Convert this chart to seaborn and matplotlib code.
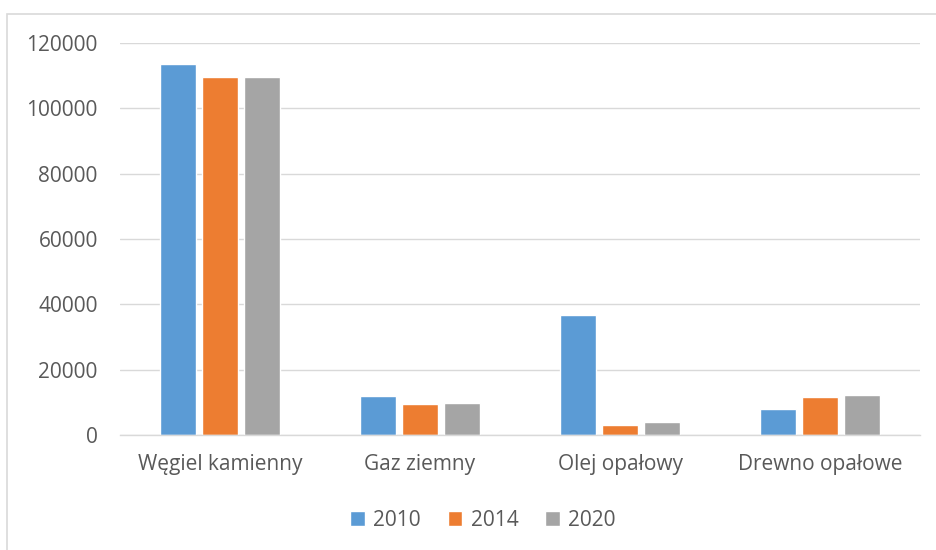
import seaborn as sns
import matplotlib.pyplot as plt
import pandas as pd
from matplotlib.patches import Rectangle

# Data
categories = ["Węgiel kamienny", "Gaz ziemny", "Olej opałowy", "Drewno opałowe"]
years = ["2010", "2014", "2020"]
values_2010 = [113600, 11900, 36600, 7900]
values_2014 = [109500, 9500, 3050, 11700]
values_2020 = [109700, 9700, 3900, 12300]
colors = ["#5B9BD5", "#ED7D31", "#A5A5A5"]

df = pd.DataFrame({
    "kategoria": categories * 3,
    "rok": [y for y in years for _ in categories],
    "wartosc": values_2010 + values_2014 + values_2020,
})

sns.set_style("white")
plt.rcParams["font.family"] = ["Open Sans", "DejaVu Sans"]

fig = plt.figure(figsize=(9.36, 5.5), dpi=100)
ax = fig.add_axes([120 / 936, 1 - 435 / 550, 800 / 936, 392 / 550])

sns.barplot(data=df, x="kategoria", y="wartosc", hue="rok", order=categories,
            hue_order=years, palette=colors, width=0.63, gap=0.14,
            saturation=1, ax=ax, legend=True)

ax.set_ylim(0, 120000)
ax.set_yticks(range(0, 120001, 20000))
ax.yaxis.grid(True, color="#d9d9d9", lw=1)
ax.set_axisbelow(True)
for s in ["top", "right", "left"]:
    ax.spines[s].set_visible(False)
ax.spines["bottom"].set_color("#d9d9d9")
ax.spines["bottom"].set_linewidth(1)
ax.set_xlabel("")
ax.set_ylabel("")
ax.tick_params(axis="both", length=0, colors="#595959", labelsize=15)
ax.tick_params(axis="y", pad=16)
ax.tick_params(axis="x", pad=14)

leg = ax.legend(loc="center", bbox_to_anchor=((483 - 120) / 800, -85 / 392), ncol=3,
                frameon=False, fontsize=15, handlelength=0.7, handleheight=0.7,
                columnspacing=1.3, handletextpad=0.4)
for t in leg.get_texts():
    t.set_color("#595959")

fig.patches.append(Rectangle((7 / 936, -0.01), 1.0, 1 - 14 / 550 + 0.01,
                             transform=fig.transFigure, fill=False,
                             edgecolor="#d9d9d9", lw=1.2))

fig.savefig("out.png", dpi=100)
